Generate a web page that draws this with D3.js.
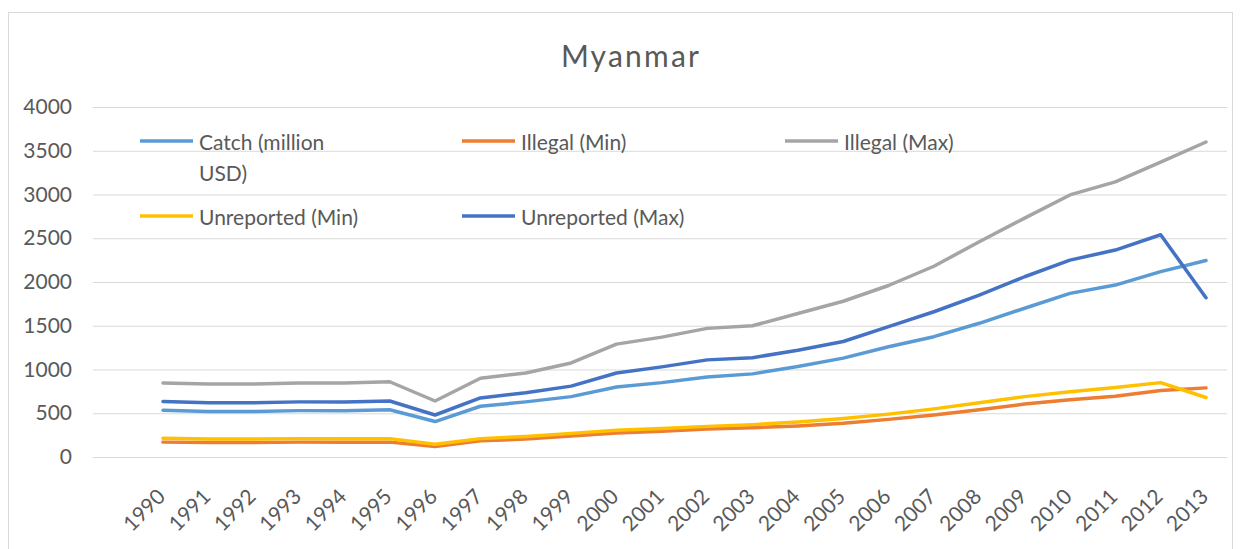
<!DOCTYPE html>
<html>
<head>
<meta charset="utf-8">
<script src="https://cdn.jsdelivr.net/npm/d3@7/dist/d3.min.js"></script>
<style>
  html, body { margin: 0; padding: 0; background: #ffffff; }
  svg { display: block; }
  text { font-family: Lato, "Open Sans", sans-serif; fill: #595959; }
</style>
</head>
<body>
<svg id="chart" width="1242" height="549"></svg>
<script>
// Myanmar: catch value vs. illegal and unreported estimates (million USD)
const years = [1990, 1991, 1992, 1993, 1994, 1995, 1996, 1997, 1998, 1999, 2000, 2001,
               2002, 2003, 2004, 2005, 2006, 2007, 2008, 2009, 2010, 2011, 2012, 2013];

const catchValue    = [535, 520, 520, 530, 530, 540, 405, 580, 630, 690, 800, 850,
                       915, 950, 1035, 1130, 1260, 1375, 1528, 1700, 1870, 1965, 2118, 2245];
const illegalMin    = [170, 165, 165, 170, 170, 170, 120, 185, 205, 240, 275, 295,
                       320, 335, 355, 385, 430, 480, 540, 605, 655, 695, 760, 790];
const illegalMax    = [845, 835, 835, 845, 845, 860, 640, 900, 960, 1075, 1290, 1370,
                       1470, 1500, 1640, 1780, 1960, 2180, 2460, 2730, 2995, 3145, 3370, 3600];
const unreportedMin = [215, 205, 205, 210, 210, 210, 145, 210, 235, 270, 305, 325,
                       350, 370, 400, 440, 490, 550, 620, 690, 745, 795, 850, 680];
const unreportedMax = [635, 620, 620, 630, 630, 640, 480, 675, 735, 810, 960, 1030,
                       1110, 1135, 1220, 1320, 1490, 1660, 1850, 2060, 2250, 2365, 2540, 1820];

const seriesNames  = ["Catch (million USD)", "Illegal (Min)", "Illegal (Max)", "Unreported (Min)", "Unreported (Max)"];
const seriesValues = [catchValue, illegalMin, illegalMax, unreportedMin, unreportedMax];
const seriesColors = ["#5B9BD5", "#ED7D31", "#A5A5A5", "#FFC000", "#4472C4"];

const yTicks = [0, 500, 1000, 1500, 2000, 2500, 3000, 3500, 4000];

const svg = d3.select("#chart");

// outer chart frame
svg.append("rect")
  .attr("x", 8.5).attr("y", 12.5)
  .attr("width", 1224).attr("height", 540)
  .attr("fill", "#ffffff")
  .attr("stroke", "#d9d9d9");

// title
svg.append("text")
  .attr("x", 631).attr("y", 67)
  .attr("text-anchor", "middle")
  .style("font-size", "30px")
  .style("letter-spacing", "2.2px")
  .text("Myanmar");

const plotLeft = 93, plotRight = 1227;
const x = d3.scalePoint().domain(years).range([163, 1206]);
const y = d3.scaleLinear().domain([0, 4000]).range([457, 107]);

// value axis with gridlines
const yAxis = svg.append("g")
  .attr("transform", `translate(${plotLeft},0)`)
  .call(d3.axisLeft(y).tickValues(yTicks).tickFormat(d3.format("d"))
    .tickSize(-(plotRight - plotLeft)).tickPadding(21));
yAxis.select(".domain").remove();
yAxis.selectAll(".tick line").attr("stroke", "#d9d9d9").attr("stroke-width", 1);
yAxis.selectAll(".tick text")
  .style("font-size", "21px")
  .style("font-family", "Lato, sans-serif")
  .attr("fill", "#595959");

// category axis with rotated year labels
const xAxis = svg.append("g")
  .attr("transform", `translate(0,${y(0)})`)
  .call(d3.axisBottom(x).tickSize(0).tickFormat(d3.format("d")));
xAxis.select(".domain").remove();
xAxis.selectAll(".tick text")
  .attr("x", 0).attr("y", 0).attr("dy", 0)
  .attr("text-anchor", "end")
  .attr("transform", "translate(3,41) rotate(-45)")
  .style("font-size", "21px")
  .style("font-family", "Lato, sans-serif")
  .attr("fill", "#595959");

// series lines
const line = d3.line()
  .x((d, i) => x(years[i]))
  .y(d => y(d));

svg.append("g").selectAll("path")
  .data(seriesValues)
  .join("path")
  .attr("d", d => line(d))
  .attr("fill", "none")
  .attr("stroke", (d, i) => seriesColors[i])
  .attr("stroke-width", 3.5)
  .attr("stroke-linejoin", "round")
  .attr("stroke-linecap", "round");

// legend: three columns, two rows
const legendCols = [140, 462, 785];
const legendRows = [141, 216];
const legend = svg.append("g");
seriesNames.forEach((name, i) => {
  const lx = legendCols[i % 3];
  const ly = legendRows[Math.floor(i / 3)];
  const item = legend.append("g").attr("transform", `translate(${lx},${ly})`);
  item.append("line")
    .attr("x1", 0).attr("x2", 53)
    .attr("y1", 0).attr("y2", 0)
    .attr("stroke", seriesColors[i])
    .attr("stroke-width", 3.5);
  // long names wrap onto a second line
  const lines = name === "Catch (million USD)" ? ["Catch (million", "USD)"] : [name];
  const t = item.append("text")
    .attr("x", 59).attr("y", 0)
    .style("font-size", "21px")
    .attr("dominant-baseline", "central");
  lines.forEach((s, k) => {
    t.append("tspan").attr("x", 59).attr("dy", k === 0 ? 0 : 31).text(s);
  });
});
</script>
</body>
</html>
